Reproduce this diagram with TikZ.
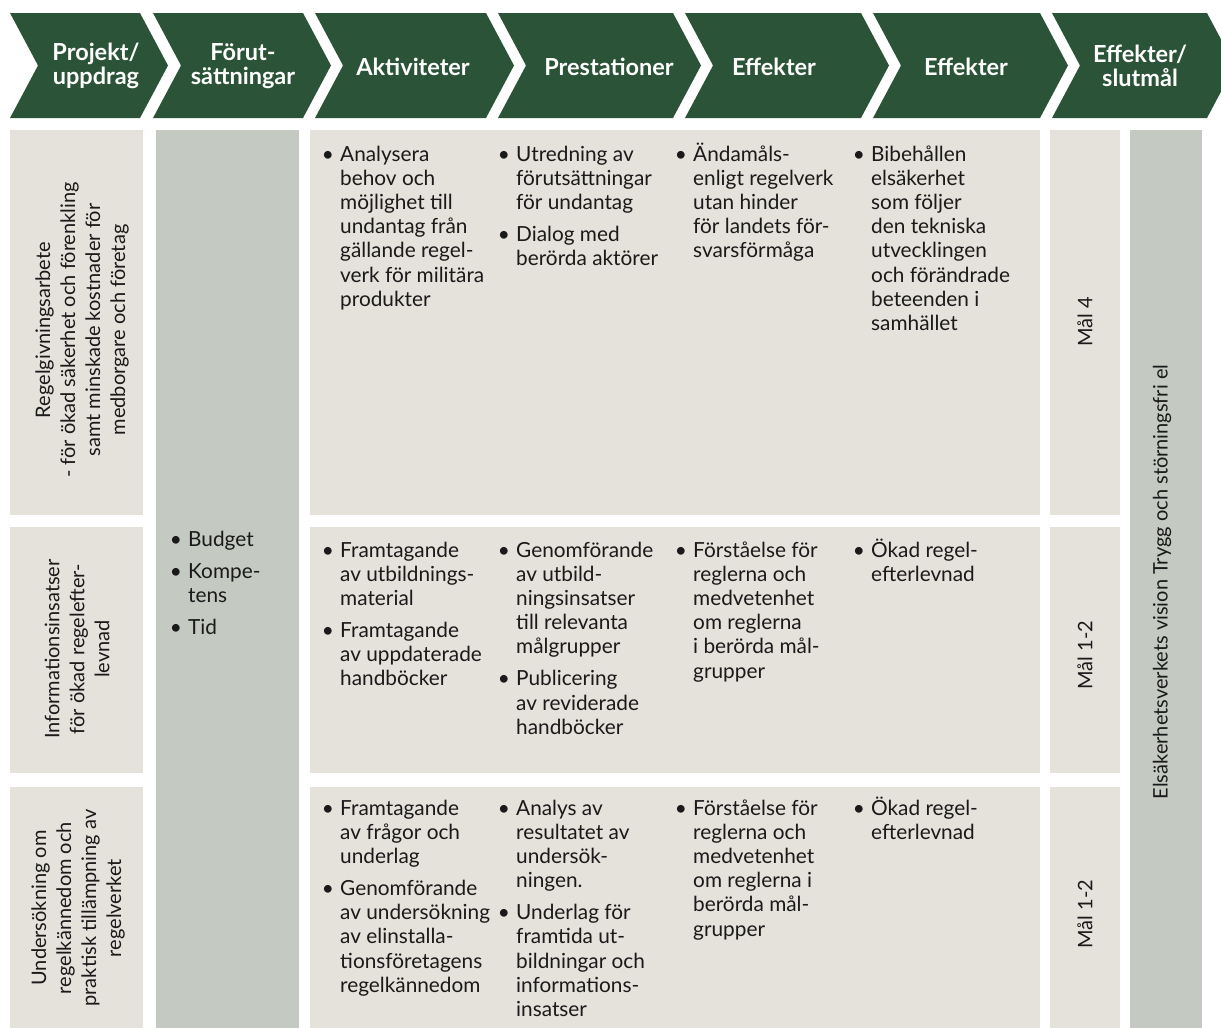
\documentclass[tikz,border=0pt]{standalone}
\usepackage{fontspec}
\setmainfont{Lato}
\definecolor{hdr}{HTML}{2B5338}
\definecolor{beige}{HTML}{E5E1DB}
\definecolor{sage}{HTML}{C4C9C2}
\definecolor{ink}{HTML}{1A1A1A}
\newcommand\blist[4]{%
  \node[bul] (#1b) at ({#2-12},#3) {\textbullet};
  \foreach \t [count=\i] in {#4}{\node[txt] (#1l\i) at (#2,{#3+(\i-1)*24.2}) {\t};}
}
\begin{document}
\begin{tikzpicture}[x=1pt,y=-1pt,
  hdrtxt/.style={text=white,font=\fontsize{23.5}{23.5}\selectfont\bfseries,align=center,inner sep=0},
  txt/.style={text=ink,font=\fontsize{20.8}{24.2}\selectfont,anchor=base west,inner sep=0},
  bul/.style={text=ink,font=\fontsize{20.8}{24.2}\selectfont,anchor=base,inner sep=0},
  vtxt/.style={text=ink,font=\fontsize{20}{25}\selectfont,align=center,rotate=90,inner sep=0},
]
\useasboundingbox (0,0) rectangle (1221,1028);
\clip (0,0) rectangle (1221,1028);
% header chevrons
\foreach \L/\R in {10/140,153/303,315/486,498/673,685/861,873/1040,1052/1207}
  \fill[hdr] (\L,13) -- (\R,13) -- ({\R+28},65.5) -- (\R,118) -- (\L,118) -- ({\L+28},65.5) -- cycle;
% boxes
\foreach \T/\B in {130/515,527/773,787/1028}{
  \fill[beige] (10,\T) rectangle (143,\B);
  \fill[beige] (310,\T) rectangle (1040,\B);
  \fill[beige] (1050,\T) rectangle (1120,\B);
}
\fill[sage] (156,130) rectangle (299,1028);
\fill[sage] (1130,130) rectangle (1202,1028);
% header texts
\node[hdrtxt] (h1) at (96,66) {Projekt/\\uppdrag};
\node[hdrtxt] (h2) at (243,66) {Förut-\\sättningar};
\node[hdrtxt] (h3) at (413,67) {Aktiviteter};
\node[hdrtxt] (h4) at (609,67) {Prestationer};
\node[hdrtxt] (h5) at (774,67) {Effekter};
\node[hdrtxt] (h6) at (966,67) {Effekter};
\node[hdrtxt] (h7) at (1140,66) {Effekter/\\slutmål};
% vertical labels
\node[vtxt] (p1) at (82,330) {Regelgivningsarbete\\- för ökad säkerhet och förenkling\\samt minskade kostnader för\\medborgare och företag};
\node[vtxt] (p2) at (77,649) {Informationsinsatser\\för ökad regelefter-\\levnad};
\node[vtxt] (p3) at (78,908) {Undersökning om\\regelkännedom och\\praktisk tillämpning av\\regelverket};
\node[vtxt] (m1) at (1085,322) {Mål 4};
\node[vtxt] (m2) at (1085,655) {Mål 1-2};
\node[vtxt] (m3) at (1085,914) {Mål 1-2};
\node[vtxt] (vis) at (1162,582) {Elsäkerhetsverkets vision Trygg och störningsfri el};
% resources
\blist{fa}{188}{546}{Budget}
\blist{fb}{188}{578}{Kompe-,tens}
\blist{fc}{188}{634.2}{Tid}
% row 1
\blist{ra}{340}{161}{Analysera,behov och,möjlighet till,undantag från,gällande regel-,verk för militära,produkter}
\blist{rb}{516}{161}{Utredning av,förutsättningar,för undantag}
\blist{rc}{516}{241.4}{Dialog med,berörda aktörer}
\blist{rd}{693}{161}{Ändamåls-,enligt regelverk,utan hinder,för landets för-,svarsförmåga}
\blist{re}{871}{161}{Bibehållen,elsäkerhet,som följer,den tekniska,utvecklingen,och förändrade,beteenden i,samhället}
% row 2
\blist{ia}{340}{557}{Framtagande,av utbildnings-,material}
\blist{ib}{340}{637.4}{Framtagande,av uppdaterade,handböcker}
\blist{ic}{516}{557}{Genomförande,av utbild-,ningsinsatser,till relevanta,målgrupper}
\blist{id}{516}{685.8}{Publicering,av reviderade,handböcker}
\blist{ie}{693}{557}{Förståelse för,reglerna och,medvetenhet,om reglerna,i berörda mål-,grupper}
\blist{if}{871}{557}{Ökad regel-,efterlevnad}
% row 3
\blist{ua}{340}{815}{Framtagande,av frågor och,underlag}
\blist{ub}{340}{895.4}{Genomförande,av undersökning,av elinstalla-,tionsföretagens,regelkännedom}
\blist{uc}{516}{815}{Analys av,resultatet av,undersök-,ningen.}
\blist{ud}{516}{919.6}{Underlag för,framtida ut-,bildningar och,informations-,insatser}
\blist{ue}{693}{815}{Förståelse för,reglerna och,medvetenhet,om reglerna i,berörda mål-,grupper}
\blist{uf}{871}{815}{Ökad regel-,efterlevnad}
\end{tikzpicture}
\end{document}
